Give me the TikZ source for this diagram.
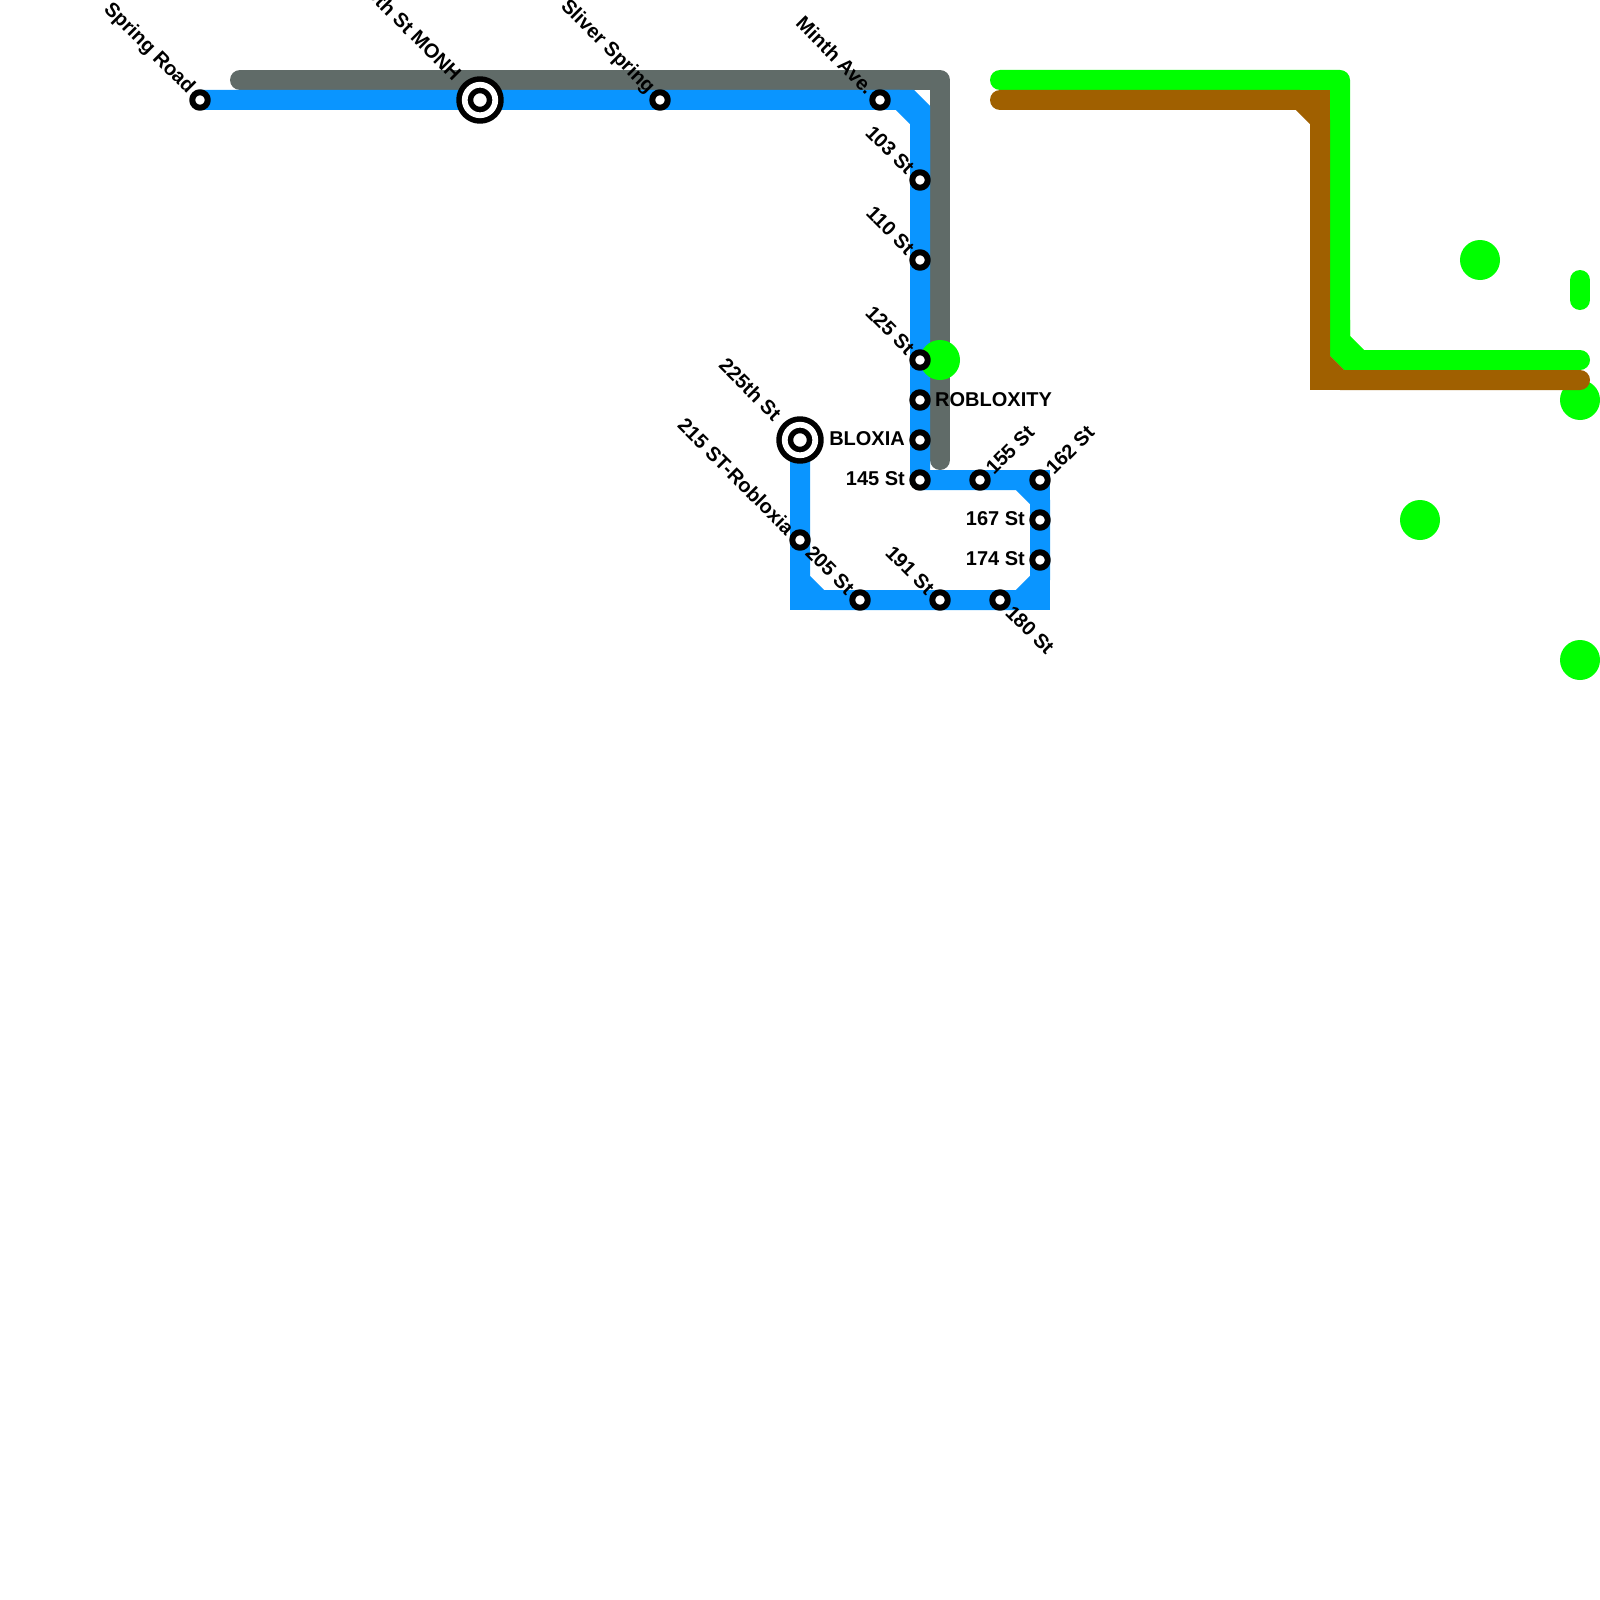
\documentclass[tikz,border=0pt]{standalone}
\usepackage{fontspec}
\setmainfont{Liberation Sans}
\usetikzlibrary{calc}
\definecolor{bluel}{RGB}{10,149,255}
\definecolor{grayl}{RGB}{96,107,104}
\definecolor{greenl}{RGB}{0,255,0}
\definecolor{brownl}{RGB}{160,96,0}

\begin{document}
\begin{tikzpicture}[line cap=round,line join=round,x=1pt,y=-1pt,
  route/.style={line width=20pt},
  stn/.style={circle,draw=black,fill=white,line width=6pt,minimum size=15.5pt,inner sep=0pt},
  xfer/.style={circle,draw=black,double=white,fill=white,line width=5.6pt,double distance=5.8pt,minimum size=30.5pt,inner sep=0pt},
  lbl/.style={font=\fontsize{20}{20}\selectfont\bfseries,inner sep=0pt}]
\useasboundingbox (0,0) rectangle (1600,1600);
% stops
\coordinate (springrd) at (200,100);
\coordinate (monh) at (480,100);
\coordinate (sliver) at (660,100);
\coordinate (minth) at (880,100);
\coordinate (s103) at (920,180);
\coordinate (s110) at (920,260);
\coordinate (s125) at (920,360);
\coordinate (robloxity) at (920,400);
\coordinate (bloxia) at (920,440);
\coordinate (s145) at (920,480);
\coordinate (s155) at (980,480);
\coordinate (s162) at (1040,480);
\coordinate (s167) at (1040,520);
\coordinate (s174) at (1040,560);
\coordinate (s180) at (1000,600);
\coordinate (s191) at (940,600);
\coordinate (s205) at (860,600);
\coordinate (s215) at (800,540);
\coordinate (s225) at (800,440);
% lines
\draw[route,grayl] (240,80) -- (940,80) -- (940,460);
\draw[route,bluel] (springrd) -- (monh) -- (sliver) -- (minth) -- (900,100) -- (920,120)
  -- (s103) -- (s145) -- (1020,480) -- (1040,500) -- (1040,580) -- (1020,600)
  -- (820,600) -- (800,580) -- (s225);
\draw[route,bluel,line join=miter] (minth) -- (910,100) -- (920,110) -- (s103);
\draw[route,bluel,line join=miter] (s145) -- (1040,480) -- (1040,600) -- (800,600) -- (s225);
\fill[greenl] (940,360) circle (20);
\fill[greenl] (1480,260) circle (20);
\fill[greenl] (1420,520) circle (20);
\fill[greenl] (1580,400) circle (20);
\fill[greenl] (1580,660) circle (20);
\draw[route,greenl] (1580,280) -- (1580,300);
\draw[route,greenl] (1000,80) -- (1340,80) -- (1340,340) -- (1360,360) -- (1580,360);
\draw[route,greenl,line join=miter] (1340,320) -- (1340,352) -- (1348,360) -- (1390,360);
\draw[route,brownl] (1000,100) -- (1300,100) -- (1320,120) -- (1320,360) -- (1340,380) -- (1580,380);
\draw[route,brownl,line join=miter] (1260,100) -- (1320,100) -- (1320,160);
\draw[route,brownl,line join=miter] (1320,320) -- (1320,380) -- (1360,380);
% station marks
\node[stn] (n-springrd) at (springrd) {};
\node[xfer] (n-monh) at (monh) {};
\node[stn] (n-sliver) at (sliver) {};
\node[stn] (n-minth) at (minth) {};
\node[stn] (n-s103) at (s103) {};
\node[stn] (n-s110) at (s110) {};
\node[stn] (n-s125) at (s125) {};
\node[stn] (n-robloxity) at (robloxity) {};
\node[stn] (n-bloxia) at (bloxia) {};
\node[stn] (n-s145) at (s145) {};
\node[stn] (n-s155) at (s155) {};
\node[stn] (n-s162) at (s162) {};
\node[stn] (n-s167) at (s167) {};
\node[stn] (n-s174) at (s174) {};
\node[stn] (n-s180) at (s180) {};
\node[stn] (n-s191) at (s191) {};
\node[stn] (n-s205) at (s205) {};
\node[stn] (n-s215) at (s215) {};
\node[xfer] (n-s225) at (s225) {};
% names
\node[lbl,rotate=-45,anchor=east] (l-springrd) at ($(springrd)+(-9,-9)$) {Spring Road};
\node[lbl,rotate=-45,anchor=east] (l-monh) at ($(monh)+(-22,-23)$) {59th St MONH};
\node[lbl,rotate=-45,anchor=east] (l-sliver) at ($(sliver)+(-9,-9)$) {Sliver Spring};
\node[lbl,rotate=-45,anchor=east] (l-minth) at ($(minth)+(-9,-9)$) {Minth Ave.};
\node[lbl,rotate=-45,anchor=east] (l-s103) at ($(s103)+(-9,-9)$) {103 St};
\node[lbl,rotate=-45,anchor=east] (l-s110) at ($(s110)+(-9,-9)$) {110 St};
\node[lbl,rotate=-45,anchor=east] (l-s125) at ($(s125)+(-9,-9)$) {125 St};
\node[lbl,anchor=west] (l-robloxity) at ($(robloxity)+(15,0)$) {ROBLOXITY};
\node[lbl,anchor=east] (l-bloxia) at ($(bloxia)+(-15,-1)$) {BLOXIA};
\node[lbl,anchor=east] (l-s145) at ($(s145)+(-15,-1)$) {145 St};
\node[lbl,rotate=45,anchor=west] (l-s155) at ($(s155)+(9,-9)$) {155 St};
\node[lbl,rotate=45,anchor=west] (l-s162) at ($(s162)+(9,-9)$) {162 St};
\node[lbl,anchor=east] (l-s167) at ($(s167)+(-15,-1)$) {167 St};
\node[lbl,anchor=east] (l-s174) at ($(s174)+(-15,-1)$) {174 St};
\node[lbl,rotate=-45,anchor=west] (l-s180) at ($(s180)+(9,9)$) {180 St};
\node[lbl,rotate=-45,anchor=east] (l-s191) at ($(s191)+(-9,-9)$) {191 St};
\node[lbl,rotate=-45,anchor=east] (l-s205) at ($(s205)+(-9,-9)$) {205 St};
\node[lbl,rotate=-45,anchor=east] (l-s215) at ($(s215)+(-9,-9)$) {215 ST-Robloxia};
\node[lbl,rotate=-45,anchor=east] (l-s225) at ($(s225)+(-22,-23)$) {225th St};
\end{tikzpicture}
\end{document}
